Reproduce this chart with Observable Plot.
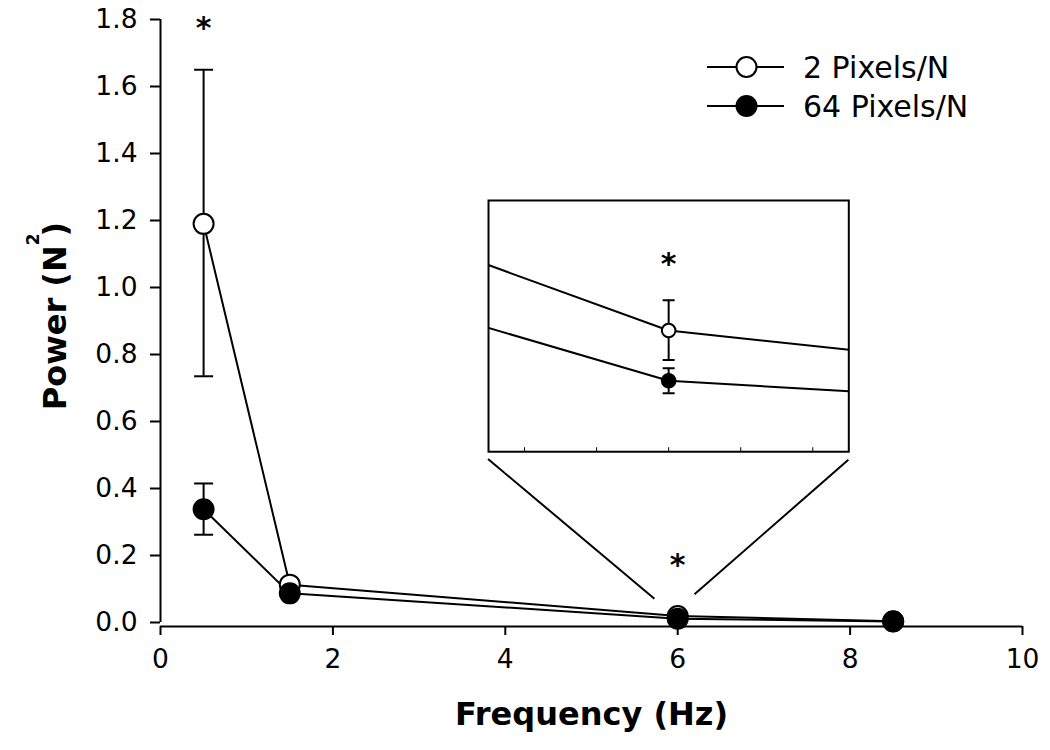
<!DOCTYPE html>
<html><head><meta charset="utf-8">
<script src="https://cdn.jsdelivr.net/npm/d3@7"></script>
<script src="https://cdn.jsdelivr.net/npm/@observablehq/plot@0.6"></script>
<style>
body{margin:0;background:#fff;}
#wrap{position:relative;width:1050px;height:750px;font-family:"DejaVu Sans",sans-serif;}
#wrap svg{position:absolute;overflow:visible;}
</style></head><body><div id="wrap"></div>
<script>
// ---- data ----
const frequency = [0.5, 1.5, 6, 8.5];
const seriesNames = ["2 Pixels/N", "64 Pixels/N"];
const power2 = [1.19, 0.113, 0.0193, 0.004];
const power2Lo = [0.735, null, 0.0146, null];
const power2Hi = [1.65, null, 0.0241, null];
const power64 = [0.338, 0.087, 0.0113, 0.003];
const power64Lo = [0.262, null, 0.0093, null];
const power64Hi = [0.415, null, 0.0133, null];
const starFreq = [0.5, 6];
const starPower = [1.773, 0.170];
const insetStarPower = [0.0299];
const xTicks = [0, 2, 4, 6, 8, 10];
const yTicks = [0, 0.2, 0.4, 0.6, 0.8, 1.0, 1.2, 1.4, 1.6, 1.8];
const insetXDomain = [5.5, 6.5];
const insetYDomain = [0, 0.04];
const insetBox = {x1: 3.8, x2: 7.98, y1: 0.51, y2: 1.26};
const connectors = [
  {x1: 3.8, y1: 0.488, x2: 5.73, y2: 0.071},
  {x1: 7.98, y1: 0.486, x2: 6.195, y2: 0.084}
];

const rows = [];
frequency.forEach((f, i) => rows.push({series: seriesNames[0], f, p: power2[i], lo: power2Lo[i], hi: power2Hi[i]}));
frequency.forEach((f, i) => rows.push({series: seriesNames[1], f, p: power64[i], lo: power64Lo[i], hi: power64Hi[i]}));
const rowsA = rows.filter(d => d.series === seriesNames[0]);
const rowsB = rows.filter(d => d.series === seriesNames[1]);
const errRows = rows.filter(d => d.lo != null);
const stars = starFreq.map((f, i) => ({f, p: starPower[i]}));

const cap = {draw(ctx, size) { const w = Math.sqrt(size / Math.PI); ctx.moveTo(-w, 0); ctx.lineTo(w, 0); }};

const main = Plot.plot({
  width: 1050, height: 750,
  marginLeft: 160, marginRight: 28, marginTop: 19, marginBottom: 128,
  x: {domain: [0, 10]},
  y: {domain: [0, 1.8]},
  style: {fontFamily: "DejaVu Sans", color: "black", background: "transparent"},
  marks: [
    Plot.ruleX([0], {strokeWidth: 2}),
    Plot.ruleY([0], {dy: 4, strokeWidth: 2}),
    Plot.axisY(yTicks, {tickSize: 10, tickPadding: 13, strokeWidth: 2, tickFormat: d3.format(".1f"), fontSize: 26.5, label: null}),
    Plot.axisX(xTicks, {tickSize: 9, tickPadding: 14, dy: 4, strokeWidth: 2, fontSize: 26.5, label: null}),
    Plot.link(connectors, {x1: "x1", y1: "y1", x2: "x2", y2: "y2", strokeWidth: 2, stroke: "black"}),
    Plot.line(rows, {x: "f", y: "p", z: "series", stroke: "black", strokeWidth: 2}),
    Plot.ruleX(errRows, {x: "f", y1: "lo", y2: "hi", stroke: "black", strokeWidth: 2}),
    Plot.dot(errRows, {x: "f", y: "lo", symbol: cap, r: 9.5, fill: "none", stroke: "black", strokeWidth: 2}),
    Plot.dot(errRows, {x: "f", y: "hi", symbol: cap, r: 9.5, fill: "none", stroke: "black", strokeWidth: 2}),
    Plot.dot(rowsA, {x: "f", y: "p", r: 10, fill: "white", stroke: "black", strokeWidth: 2}),
    Plot.dot(rowsB, {x: "f", y: "p", r: 10, fill: "black", stroke: "black", strokeWidth: 2}),
    Plot.text(stars, {x: "f", y: "p", text: () => "*", fontSize: 30, fontWeight: "bold"}),
    Plot.text(["Frequency (Hz)"], {text: d => d, frameAnchor: "bottom", dy: 102, lineAnchor: "bottom", fontSize: 32, fontWeight: "bold"}),
    Plot.text(["Power (N²)"], {text: d => d, frameAnchor: "left", rotate: -90, dx: -95, dy: -5, lineAnchor: "bottom", textAnchor: "middle", fontSize: 32, fontWeight: "bold"})
  ]
});
main.style.left = "0px"; main.style.top = "0px";
const wrap = document.getElementById("wrap");
wrap.appendChild(main);

// superscript for y title
d3.select(main).selectAll("text").each(function() {
  if (this.textContent === "Power (N²)") {
    const t = d3.select(this);
    t.text(null);
    t.append("tspan").text("Power (N");
    t.append("tspan").attr("dy", -27).attr("font-size", 17).text("2");
    t.append("tspan").attr("dy", 27).attr("dx", -3).text(")");
  }
});

// ---- inset ----
const X = main.scale("x"), Y = main.scale("y");
const ix1 = X.apply(insetBox.x1), ix2 = X.apply(insetBox.x2);
const iy1 = Y.apply(insetBox.y2), iy2 = Y.apply(insetBox.y1);
const iW = ix2 - ix1 + 2, iH = iy2 - iy1 + 2;
const insetTicks = d3.ticks(insetXDomain[0], insetXDomain[1], 5);
const inset = Plot.plot({
  width: iW, height: iH,
  marginLeft: 1, marginRight: 1, marginTop: 1, marginBottom: 1,
  x: {domain: insetXDomain, axis: null},
  y: {domain: insetYDomain, axis: null},
  style: {fontFamily: "DejaVu Sans", color: "black", background: "white"},
  marks: [
    Plot.tickX(insetTicks, {x: d => d, insetTop: iH - 2 - 4, stroke: "black", strokeWidth: 1}),
    Plot.line(rows, {x: "f", y: "p", z: "series", stroke: "black", strokeWidth: 2, clip: true}),
    Plot.ruleX(errRows, {x: "f", y1: "lo", y2: "hi", stroke: "black", strokeWidth: 2, clip: true}),
    Plot.dot(errRows, {x: "f", y: "lo", symbol: cap, r: 6, fill: "none", stroke: "black", strokeWidth: 2, clip: true}),
    Plot.dot(errRows, {x: "f", y: "hi", symbol: cap, r: 6, fill: "none", stroke: "black", strokeWidth: 2, clip: true}),
    Plot.dot(rowsA, {x: "f", y: "p", r: 6.8, fill: "white", stroke: "black", strokeWidth: 2, clip: true}),
    Plot.dot(rowsB, {x: "f", y: "p", r: 6.8, fill: "black", stroke: "black", strokeWidth: 2, clip: true}),
    Plot.text([{f: starFreq[1], p: insetStarPower[0]}], {x: "f", y: "p", text: () => "*", fontSize: 30, fontWeight: "bold"}),
    Plot.frame({stroke: "black", strokeWidth: 2})
  ]
});
inset.style.left = (ix1 - 1) + "px";
inset.style.top = (iy1 - 1) + "px";
wrap.appendChild(inset);

// ---- legend ----
const leg = d3.select(wrap).append("svg")
  .attr("width", 1050).attr("height", 750)
  .style("left", "0px").style("top", "0px")
  .style("font-family", "DejaVu Sans");
const legendRows = [
  {name: seriesNames[0], fill: "white", cy: 67},
  {name: seriesNames[1], fill: "black", cy: 106}
];
legendRows.forEach(r => {
  leg.append("line").attr("x1", 707).attr("x2", 784).attr("y1", r.cy).attr("y2", r.cy).attr("stroke", "black").attr("stroke-width", 2);
  leg.append("circle").attr("cx", 746.5).attr("cy", r.cy).attr("r", 10).attr("fill", r.fill).attr("stroke", "black").attr("stroke-width", 2);
  leg.append("text").attr("x", 803).attr("y", r.cy + 10.5).attr("font-size", 30).attr("fill", "black").text(r.name);
});
</script></body></html>
